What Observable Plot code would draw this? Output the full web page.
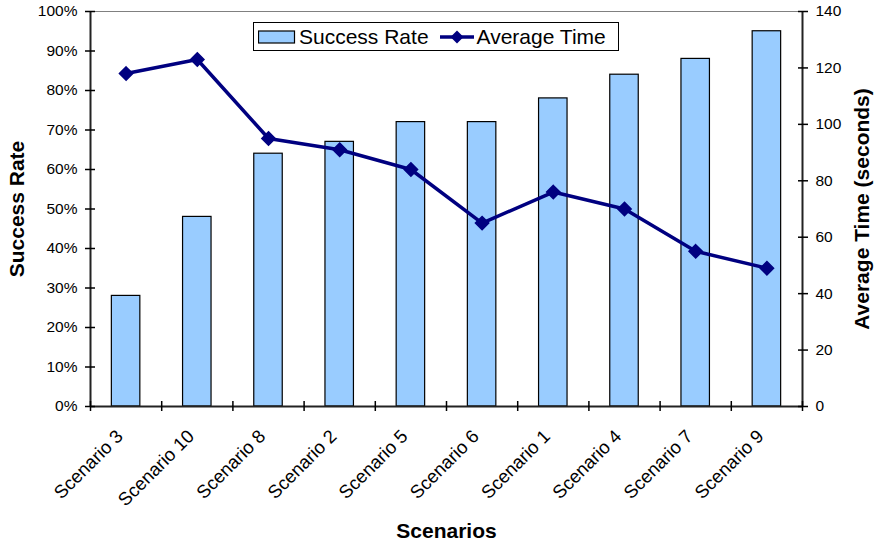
<!DOCTYPE html>
<html>
<head>
<meta charset="utf-8">
<script src="https://cdn.jsdelivr.net/npm/d3@7"></script>
<script src="https://cdn.jsdelivr.net/npm/@observablehq/plot@0.6"></script>
<style>
  body { margin: 0; background: #fff; font-family: "Liberation Sans", Arial, sans-serif; }
  #chart { position: relative; width: 879px; height: 541px; }
  .legend {
    position: absolute; left: 253px; top: 22px; width: 366px; height: 29px;
    box-sizing: border-box; border: 1px solid #000; background: #fff;
    display: flex; align-items: center; padding-left: 4px;
    font-size: 21px; color: #000; white-space: nowrap;
  }
  .legend svg { display: block; }
</style>
</head>
<body>
<div id="chart"></div>
<script>
// Scenario order along the x axis
const scenarios = ["Scenario 3", "Scenario 10", "Scenario 8", "Scenario 2", "Scenario 5",
                   "Scenario 6", "Scenario 1", "Scenario 4", "Scenario 7", "Scenario 9"];
// Success rate per scenario (%)
const successRate = [28, 48, 64, 67, 72, 72, 78, 84, 88, 95];
// Average completion time per scenario (seconds)
const avgTime = [118, 123, 95, 91, 84, 65, 76, 70, 55, 49];
// Axis ticks
const rateTicks = [0, 10, 20, 30, 40, 50, 60, 70, 80, 90, 100];
const timeTicks = [0, 20, 40, 60, 80, 100, 120, 140];
const seriesNames = ["Success Rate", "Average Time"];
const axisTitles = { left: "Success Rate", right: "Average Time (seconds)", bottom: "Scenarios" };

const rateMax = 100;
const timeMax = 140;
// the time series shares the percentage y scale: map seconds onto it
const toRate = t => t * rateMax / timeMax;

const barFill = "#99CCFF";
const lineColor = "#000080";
const font = "'Liberation Sans', Arial, sans-serif";

const rows = scenarios.map((name, i) => ({ name, i, rate: successRate[i], time: avgTime[i] }));

const plot = Plot.plot({
  width: 879,
  height: 541,
  marginLeft: 90,
  marginRight: 77,
  marginTop: 11,
  marginBottom: 135,
  style: { fontFamily: font, fontSize: "15.5px", color: "#000", background: "#fff" },
  x: { type: "linear", domain: [0, scenarios.length] },
  y: { domain: [0, rateMax] },
  marks: [
    Plot.rectY(rows, {
      x1: d => d.i + 0.3, x2: d => d.i + 0.7, y1: 0, y2: "rate",
      fill: barFill, stroke: "#000", strokeWidth: 1.2
    }),
    Plot.ruleY([rateMax], { stroke: "#808080", strokeWidth: 1 }),
    Plot.ruleY([0], { stroke: "#222", strokeWidth: 2 }),
    Plot.ruleX([0], { stroke: "#222", strokeWidth: 2 }),
    Plot.ruleX([scenarios.length], { stroke: "#222", strokeWidth: 2 }),
    Plot.axisY({
      ticks: rateTicks, tickFormat: d => d + "%", tickSize: 10, insetLeft: 5,
      tickPadding: 8, label: null, strokeWidth: 1.5
    }),
    Plot.axisY({
      anchor: "right", ticks: timeTicks.map(toRate), tickFormat: d => Math.round(d * timeMax / rateMax),
      tickSize: 10, insetRight: 5, tickPadding: 8, label: null, strokeWidth: 1.5
    }),
    Plot.axisX({
      ticks: d3.range(scenarios.length + 1), tickFormat: () => "", tickSize: 10, insetBottom: 5,
      label: null, strokeWidth: 1.5
    }),
    // rotated scenario names under each bar
    Plot.text(rows, {
      x: d => d.i + 0.5, frameAnchor: "bottom", text: "name", rotate: -45,
      textAnchor: "end", lineAnchor: "bottom", dx: -2, dy: 31, fontSize: 18.5
    }),
    Plot.line(rows, { x: d => d.i + 0.5, y: d => toRate(d.time), stroke: lineColor, strokeWidth: 3.5 }),
    Plot.dot(rows, {
      x: d => d.i + 0.5, y: d => toRate(d.time), symbol: "diamond2", r: 6,
      fill: lineColor, stroke: lineColor
    }),
    Plot.text([axisTitles.left], {
      frameAnchor: "left", textAnchor: "middle", dx: -73, rotate: -90, fontSize: 21, fontWeight: "bold"
    }),
    Plot.text([axisTitles.right], {
      frameAnchor: "right", textAnchor: "middle", dx: 60, rotate: -90, fontSize: 21, fontWeight: "bold"
    }),
    Plot.text([axisTitles.bottom], {
      frameAnchor: "bottom", textAnchor: "middle", dy: 131, fontSize: 21, fontWeight: "bold"
    })
  ]
});

const chart = document.getElementById("chart");
chart.appendChild(plot);

// Legend box drawn over the plot area
const legend = document.createElement("div");
legend.className = "legend";
legend.innerHTML = `
  <svg width="38" height="14"><rect x="0.5" y="1" width="36" height="12" fill="${barFill}" stroke="#000" stroke-width="1.2"/></svg>
  <span style="margin-left:3px">${seriesNames[0]}</span>
  <svg width="36" height="16" style="margin-left:10px">
    <line x1="1" y1="8" x2="35" y2="8" stroke="${lineColor}" stroke-width="3.5"/>
    <path d="M18,1.5 L24.5,8 L18,14.5 L11.5,8 Z" fill="${lineColor}"/>
  </svg>
  <span style="margin-left:2px">${seriesNames[1]}</span>`;
chart.appendChild(legend);
</script>
</body>
</html>
